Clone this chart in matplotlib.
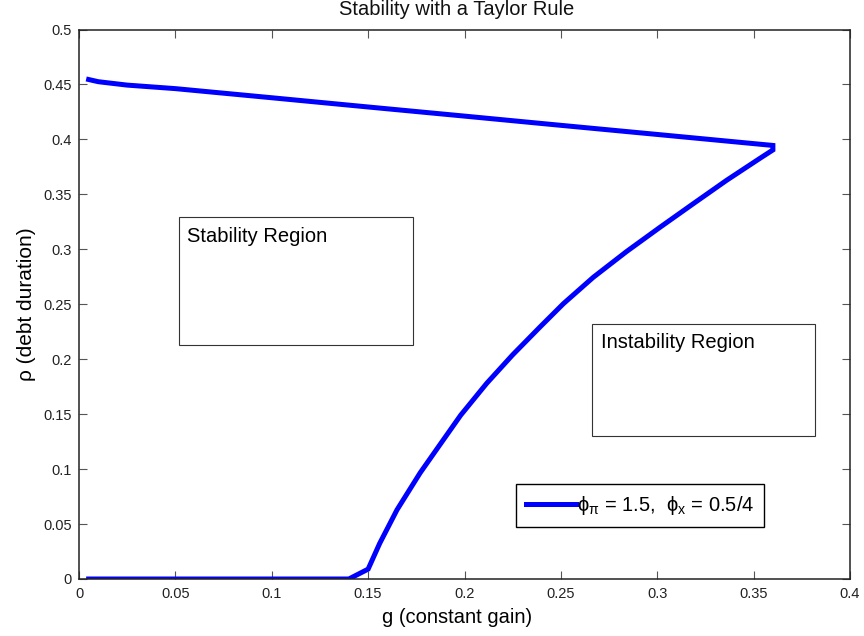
import matplotlib
matplotlib.use("Agg")
import matplotlib.pyplot as plt
from matplotlib.patches import Rectangle
import numpy as np

# ---- data ----
g_lower = [0.005, 0.14, 0.15, 0.156, 0.165, 0.177, 0.187, 0.198, 0.2115, 0.225,
           0.239, 0.2513, 0.2668, 0.2841, 0.3014, 0.3187, 0.336, 0.3533, 0.36]
rho_lower = [0.0, 0.0, 0.009, 0.0324, 0.063, 0.0966, 0.1216, 0.149, 0.178, 0.204,
             0.229, 0.2505, 0.2745, 0.2980, 0.3200, 0.3415, 0.3628, 0.3828, 0.3904]
g_upper = [0.36, 0.3, 0.25, 0.2, 0.15, 0.1, 0.05, 0.025, 0.01, 0.005]
rho_upper = [0.3945, 0.4045, 0.4128, 0.4212, 0.4295, 0.4379, 0.4462, 0.4494, 0.4525, 0.4545]

x_ticks = [0, 0.05, 0.1, 0.15, 0.2, 0.25, 0.3, 0.35, 0.4]
x_ticklabels = ['0', '0.05', '0.1', '0.15', '0.2', '0.25', '0.3', '0.35', '0.4']
y_ticks = [0, 0.05, 0.1, 0.15, 0.2, 0.25, 0.3, 0.35, 0.4, 0.45, 0.5]
y_ticklabels = ['0', '0.05', '0.1', '0.15', '0.2', '0.25', '0.3', '0.35', '0.4', '0.45', '0.5']

title = 'Stability with a Taylor Rule'
xlabel = 'g (constant gain)'
ylabel = 'ρ (debt duration)'
legend_label = r'$\phi_\pi$ = 1.5,  $\phi_x$ = 0.5/4'
stab_text = 'Stability Region'
instab_text = 'Instability Region'

# ---- style ----
plt.rcParams['font.family'] = ['Liberation Sans', 'DejaVu Sans']
plt.rcParams['mathtext.fontset'] = 'custom'
plt.rcParams['mathtext.rm'] = 'Liberation Sans'
plt.rcParams['mathtext.it'] = 'Liberation Sans'
plt.rcParams['mathtext.bf'] = 'Liberation Sans:bold'

fig = plt.figure(figsize=(8.64, 6.36), dpi=100)
ax = fig.add_axes([79/864, 1 - 579/636, 771/864, 549.5/636])

g_all = np.concatenate([g_lower, g_upper])
rho_all = np.concatenate([rho_lower, rho_upper])
ax.plot(g_all, rho_all, color='#0000ff', lw=3.6, solid_joinstyle='miter',
        label=legend_label)

ax.set_xlim(0, 0.4)
ax.set_ylim(0, 0.5)
ax.set_xticks(x_ticks)
ax.set_xticklabels(x_ticklabels)
ax.set_yticks(y_ticks)
ax.set_yticklabels(y_ticklabels)
ax.tick_params(direction='in', length=6, width=0.8, color='#555555',
               top=True, right=True, labelsize=10.5, labelcolor='#222222')
ax.tick_params(axis='x', pad=6)
ax.tick_params(axis='y', pad=5)
for s in ax.spines.values():
    s.set_linewidth(1.1)
    s.set_color('#222222')

ax.set_title(title, fontsize=14.5, pad=10.5, color='#111111', x=0.49)
ax.set_xlabel(xlabel, fontsize=14.5, labelpad=5)
ax.xaxis.label.set_x(0.49)
ax.set_ylabel(ylabel, fontsize=15, labelpad=5)

# region annotation boxes
ax.add_patch(Rectangle((0.0517, 0.2127), 0.1217, 0.1163, fill=False,
                       edgecolor='#333333', lw=0.8))
ax.text(0.056, 0.3064, stab_text, fontsize=14.5, va='baseline', ha='left')
ax.add_patch(Rectangle((0.266, 0.130), 0.116, 0.1018, fill=False,
                       edgecolor='#333333', lw=0.8))
ax.text(0.2707, 0.2102, instab_text, fontsize=14.5, va='baseline', ha='left')

leg = ax.legend(loc='center', bbox_to_anchor=(0.7276, 0.1334), fontsize=14.5,
                frameon=True, fancybox=False, edgecolor='black', framealpha=1,
                handlelength=2.5, handletextpad=0.05, borderpad=0.5,
                borderaxespad=0)
leg.get_frame().set_linewidth(1.0)

fig.savefig('out.png', dpi=100)
